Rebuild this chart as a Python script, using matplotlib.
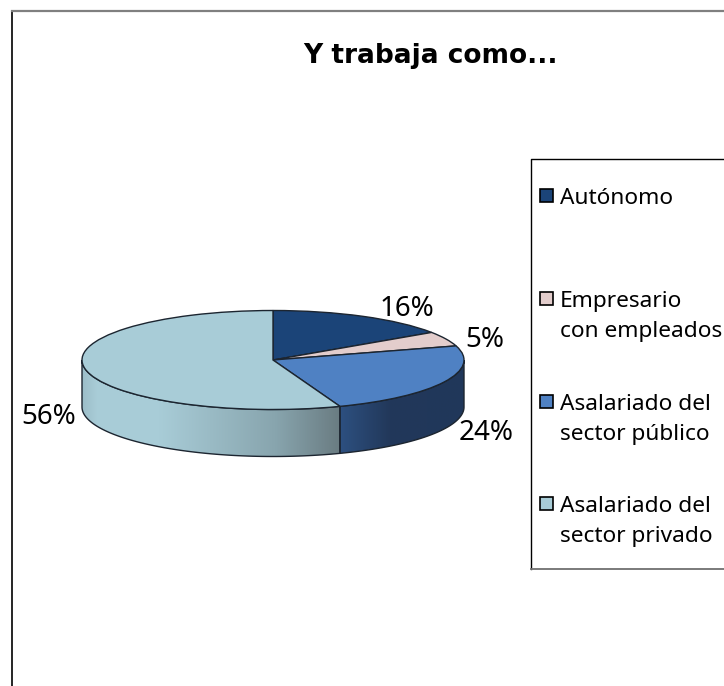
import numpy as np
import matplotlib
matplotlib.use("Agg")
import matplotlib.pyplot as plt
from matplotlib.colors import LinearSegmentedColormap
from matplotlib.patches import Polygon, Rectangle

title = "Y trabaja como..."
categories = ["Autónomo", "Empresario\ncon empleados", "Asalariado del\nsector público", "Asalariado del\nsector privado"]
values = [15.6, 4.8, 23.9, 55.7]
colors = ["#1b4478", "#e3cdcc", "#4f81c3", "#a8ccd7"]

W, H = 724, 686
plt.rcParams["font.family"] = ["Noto Sans", "DejaVu Sans"]

fig = plt.figure(figsize=(W / 100, H / 100), dpi=100)

# pie axes, x radius 191 px and y radius 49.5 px, extra room below for the wall
cx, cy, rx, ry = 273, 360, 191, 49.5
depth = 47 / ry
ax = fig.add_axes([(cx - rx) / W, 1 - (cy + ry + 47) / H, 2 * rx / W, (2 * ry + 47) / H])

edges = 360 * np.cumsum([0] + values) / sum(values)

wall_stops = [
    [(0.0, "#9cbec8"), (0.06, "#a9cdd8"), (0.3, "#a8ccd7"), (0.75, "#88a5ae"), (1.0, "#6a7c82")],
    [(0.0, "#2d5080"), (0.4, "#22385a"), (1.0, "#20375a")],
]
wall_wedges = [3, 2]
for i, stops in zip(wall_wedges, wall_stops):
    t0 = max(edges[i], 90)
    t1 = min(edges[i + 1], 270)
    t = np.radians(np.linspace(t0, t1, 80))
    x = np.sin(t)
    y = np.cos(t)
    pts = np.r_[np.c_[x, y], np.c_[x, y - depth][::-1]]
    poly = Polygon(pts, closed=True, fc="none", ec="#1c2530", lw=1.0, zorder=2, clip_on=False)
    ax.add_patch(poly)
    cmap = LinearSegmentedColormap.from_list("wall%d" % i, stops)
    grad = np.linspace(0, 1, 256).reshape(1, -1)
    im = ax.imshow(grad, cmap=cmap, extent=(x.min(), x.max(), -1 - depth, 1), aspect="auto", zorder=1)
    im.set_clip_path(poly)

ax.pie(values, colors=colors, startangle=90, counterclock=False, radius=1,
       wedgeprops={"edgecolor": "#1c2530", "linewidth": 1.0, "zorder": 3, "clip_on": False})
ax.set_aspect("auto")
ax.set_xlim(-1, 1)
ax.set_ylim(-1 - depth, 1)
ax.axis("off")

# overlay in pixel coordinates for frame and text
ov = fig.add_axes([0, 0, 1, 1])
ov.set_xlim(0, W)
ov.set_ylim(H, 0)
ov.axis("off")
ov.patch.set_alpha(0)

ov.plot([12, 12], [11, H], color="black", lw=1.2)
ov.plot([12, W], [11, 11], color="#808080", lw=1.6)

ov.text(430, 56, title, fontsize=19, fontweight="bold", family="DejaVu Sans", ha="center", va="center", color="black")

label_pos = [(407, 309), (485, 340), (486, 433), (49, 417)]
for v, (lx, ly) in zip(values, label_pos):
    ov.text(lx, ly, "%.0f%%" % v, fontsize=20, ha="center", va="center", color="black")

# legend box
ov.plot([W, 531, 531], [159, 159, 569], color="black", lw=1.0)
ov.plot([531, W], [569, 569], color="#707070", lw=1.3)

legend_y = [196, 299, 402, 504]
for name, c, ly in zip(categories, colors, legend_y):
    ov.add_patch(Rectangle((540, ly - 7), 13, 13, fc=c, ec="black", lw=1.2))
    lines = name.split("\n")
    for j, line in enumerate(lines):
        ov.text(560, ly + 8 + j * 30, line, fontsize=16.3, ha="left", va="baseline", color="black")

fig.savefig("out.png", dpi=100)
